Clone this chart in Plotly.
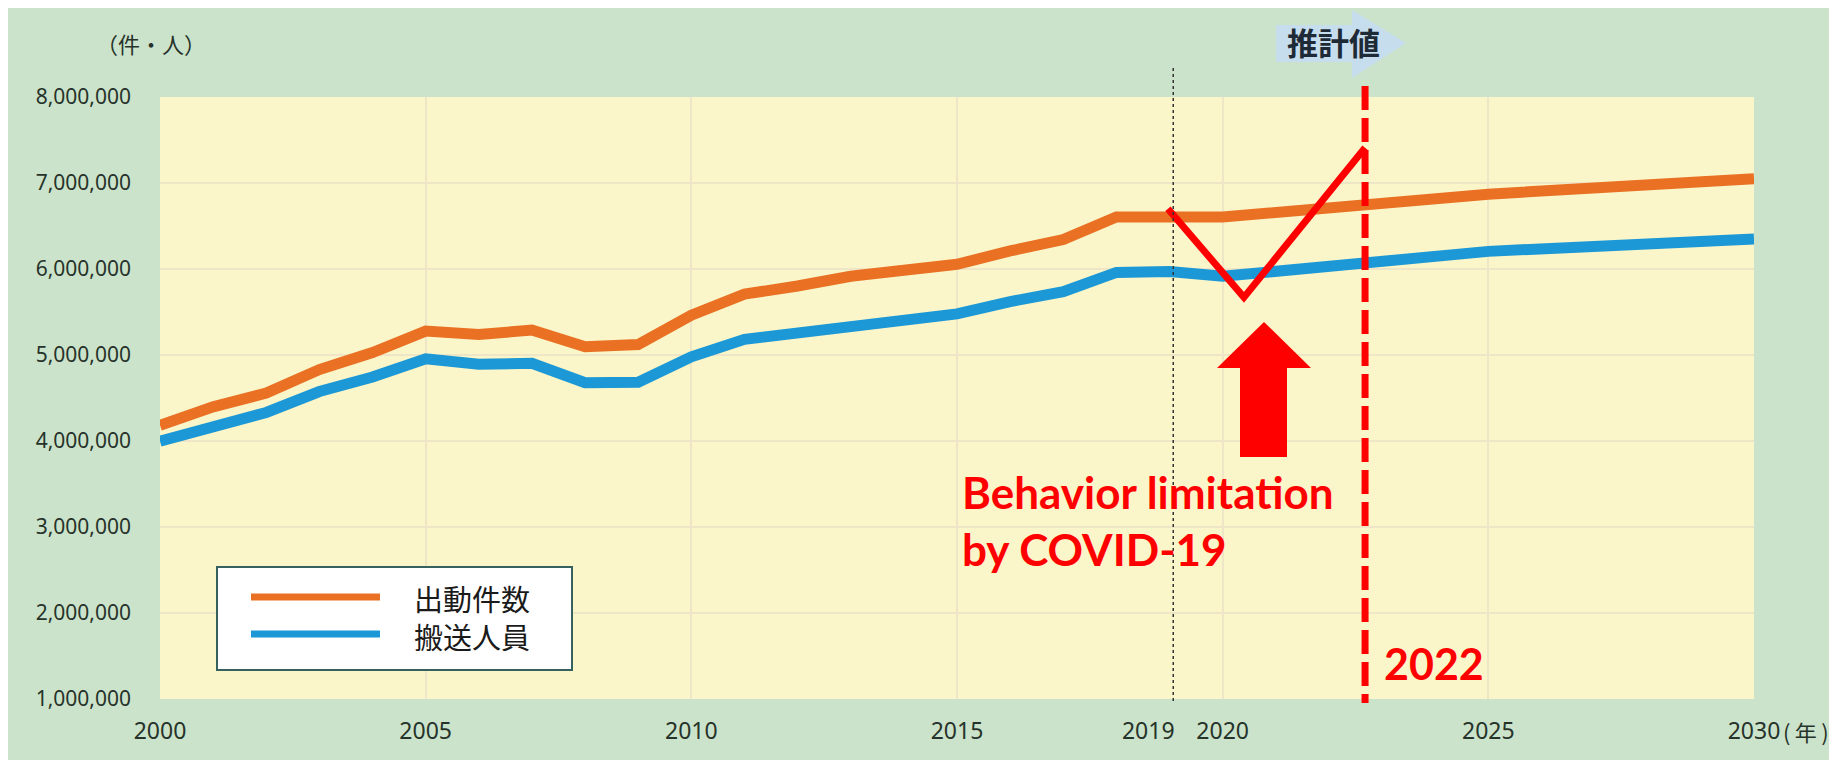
import plotly.graph_objects as go

# ---------------- data ----------------
years = [2000, 2001, 2002, 2003, 2004, 2005, 2006, 2007, 2008, 2009,
         2010, 2011, 2012, 2013, 2014, 2015, 2016, 2017, 2018, 2019,
         2020, 2025, 2030]
dispatches = [4182675, 4397527, 4557479, 4830813, 5029108, 5277936, 5237716, 5290236,
              5097094, 5122226, 5463682, 5707655, 5802455, 5915683, 5984921, 6054815,
              6209964, 6342147, 6605213, 6620000, 6605000, 6870000, 7050000]
transported = [3997942, 4179825, 4331917, 4575325, 4743469, 4955976, 4892593, 4902753,
               4678636, 4682991, 4978706, 5182729, 5250302, 5340117, 5405917, 5478370,
               5621218, 5736086, 5960295, 5970000, 5915000, 6205000, 6350000]
series_names = ["出動件数", "搬送人員"]

covid_x = [2018.97, 2020.40, 2022.68]
covid_y = [6700000, 5670000, 7410000]

estimate_start = 2019.07
limit_year = 2022.68

x_tickvals = [2000, 2005, 2010, 2015, 2018.6, 2020, 2025, 2030]
x_ticktext = ["2000", "2005", "2010", "2015", "2019", "2020", "2025", "2030"]
x_gridvals = [2005, 2010, 2015, 2020, 2025]
y_tickvals = [1000000, 2000000, 3000000, 4000000, 5000000, 6000000, 7000000, 8000000]
y_ticktext = ["1,000,000", "2,000,000", "3,000,000", "4,000,000",
              "5,000,000", "6,000,000", "7,000,000", "8,000,000"]

# ---------------- styling ----------------
ORANGE = "#EA7023"
BLUE = "#1D98D6"
RED = "#FF0000"
GREEN_BG = "#CCE3CB"
YELLOW_BG = "#FAF6CA"
GRID = "#EEE6C6"
TXT = "#26332A"

W, H = 1837, 760
OFF = 8                       # page body margin
L, R, T, B = 160, 1754, 97, 699   # plot area in screen pixels
X0, X1 = 2000, 2030
Y0, Y1 = 1000000, 8000000


def dx(px):
    return X0 + (px - L) / (R - L) * (X1 - X0)


def dy(py):
    return Y1 - (py - T) / (B - T) * (Y1 - Y0)


def px_(px):
    return (px - L) / (R - L)


def py_(py):
    return (B - py) / (B - T)


fig = go.Figure()
fig.add_trace(go.Scatter(x=years, y=dispatches, mode="lines", name=series_names[0],
                         line=dict(color=ORANGE, width=11)))
fig.add_trace(go.Scatter(x=years, y=transported, mode="lines", name=series_names[1],
                         line=dict(color=BLUE, width=11)))
fig.add_trace(go.Scatter(x=covid_x, y=covid_y, mode="lines", name="COVID-19",
                         line=dict(color=RED, width=7)))

shapes = []
# 推計値 block arrow
pts = [(1276, 25), (1352, 25), (1352, 10), (1406, 43), (1352, 78), (1352, 62), (1276, 62)]
path = "M" + " L".join(f"{px_(a):.5f},{py_(b):.5f}" for a, b in pts) + " Z"
shapes.append(dict(type="path", xref="paper", yref="paper", path=path, layer="below",
                   fillcolor="#C6DDEE", line=dict(width=0)))
# dotted separator at 2019
shapes.append(dict(type="line", xref="x", yref="paper", x0=estimate_start, x1=estimate_start,
                   y0=py_(68), y1=py_(704), layer="above",
                   line=dict(color="#333333", width=1.5, dash="dot")))
# red dashed line at 2022
shapes.append(dict(type="line", xref="x", yref="paper", x0=limit_year, x1=limit_year,
                   y0=py_(86), y1=py_(703), layer="above",
                   line=dict(color=RED, width=7, dash="24px,8px")))
# red up arrow
apts = [(1264, 322), (1311, 368), (1287, 368), (1287, 457), (1240, 457), (1240, 368), (1217, 368)]
apath = "M" + " L".join(f"{dx(a):.5f},{dy(b):.1f}" for a, b in apts) + " Z"
shapes.append(dict(type="path", xref="x", yref="y", path=apath, layer="above",
                   fillcolor=RED, line=dict(width=0)))
# custom legend
shapes.append(dict(type="rect", xref="paper", yref="paper", layer="above",
                   x0=px_(217), x1=px_(572), y0=py_(567), y1=py_(670),
                   fillcolor="white", line=dict(color="#35615F", width=2)))
shapes.append(dict(type="line", xref="paper", yref="paper", layer="above",
                   x0=px_(251), x1=px_(380), y0=py_(597), y1=py_(597),
                   line=dict(color=ORANGE, width=7)))
shapes.append(dict(type="line", xref="paper", yref="paper", layer="above",
                   x0=px_(251), x1=px_(380), y0=py_(634), y1=py_(634),
                   line=dict(color=BLUE, width=7)))

annotations = [
    dict(text="（件・人）", xref="paper", yref="paper", x=px_(151), y=py_(43),
         xanchor="center", yanchor="middle", showarrow=False,
         font=dict(family="Noto Sans CJK JP", size=22, color=TXT)),
    dict(text="<b>推計値</b>", xref="paper", yref="paper", x=px_(1333), y=py_(41),
         xanchor="center", yanchor="middle", showarrow=False,
         font=dict(family="Noto Sans CJK JP", size=31, color="#1E2A36")),
    dict(text="(\u2009年\u2009)", xref="paper", yref="paper", x=px_(1781), y=py_(731),
         xanchor="left", yanchor="middle", showarrow=False,
         font=dict(family="Noto Sans CJK JP", size=22, color=TXT)),
    dict(text=series_names[0], xref="paper", yref="paper", x=px_(412), y=py_(598),
         xanchor="left", yanchor="middle", showarrow=False,
         font=dict(family="Noto Sans CJK JP", size=29, color="#1A1A1A")),
    dict(text=series_names[1], xref="paper", yref="paper", x=px_(412), y=py_(636),
         xanchor="left", yanchor="middle", showarrow=False,
         font=dict(family="Noto Sans CJK JP", size=29, color="#1A1A1A")),
    dict(text="<b>Behavior limitation</b><br><b>by COVID-19</b>", xref="x", yref="y",
         x=dx(960), y=dy(520), xanchor="left", yanchor="middle", align="left", showarrow=False,
         font=dict(family="Lato", size=44, color=RED)),
    dict(text="<b>2022</b>", xref="x", yref="y", x=dx(1382), y=dy(663),
         xanchor="left", yanchor="middle", showarrow=False,
         font=dict(family="Lato", size=43, color=RED)),
]

fig.update_layout(
    width=W, height=H, autosize=False,
    margin=dict(l=L - OFF, r=W - (R - OFF), t=T - OFF, b=H - (B - OFF), pad=0),
    paper_bgcolor=GREEN_BG, plot_bgcolor=YELLOW_BG,
    showlegend=False,
    shapes=shapes, annotations=annotations,
    xaxis=dict(range=[X0, X1], tickmode="array", tickvals=x_tickvals, ticktext=x_ticktext,
               showgrid=False, zeroline=False, showline=False, ticks="",
               ticklabelstandoff=16,
               tickfont=dict(family="Noto Sans", size=23, color=TXT),
               minor=dict(tickmode="array", tickvals=x_gridvals, showgrid=True,
                          gridcolor=GRID, gridwidth=2, ticks="")),
    yaxis=dict(range=[Y0, Y1], tickmode="array", tickvals=y_tickvals, ticktext=y_ticktext,
               showgrid=True, gridcolor=GRID, gridwidth=2, zeroline=False, showline=False,
               ticks="", ticklabelstandoff=28,
               tickfont=dict(family="Noto Sans", size=21, color=TXT)),
)

fig.write_html("out.html")
